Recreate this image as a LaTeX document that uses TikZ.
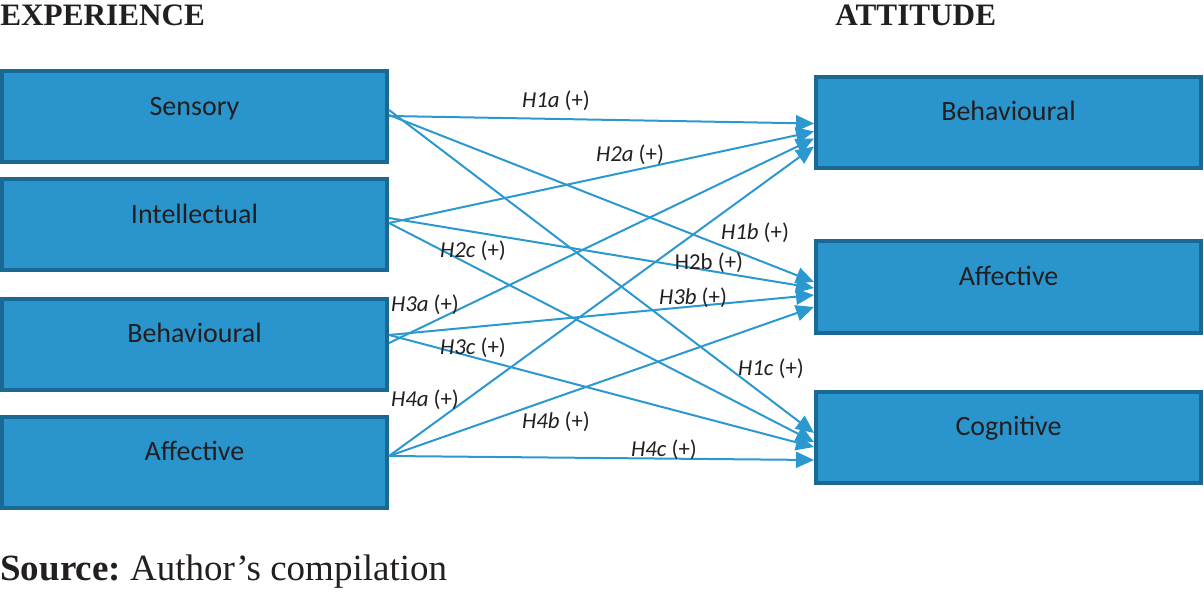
\documentclass[tikz,border=0pt]{standalone}
\usepackage{fontspec}
\setmainfont{Liberation Serif}
\newfontfamily\calibri{Carlito}
\usetikzlibrary{arrows.meta}
\definecolor{boxblue}{RGB}{42,149,204}
\definecolor{boxedge}{RGB}{26,104,148}
\definecolor{arrowblue}{RGB}{44,152,208}
\definecolor{txtgray}{RGB}{35,31,32}

\begin{document}
\begin{tikzpicture}[x=0.5pt,y=-0.5pt,
  box/.style={draw=boxedge,fill=boxblue,line width=2pt,minimum width=192.5pt,
    minimum height=45.5pt,inner sep=0pt,text=txtgray,
    font=\calibri\fontsize{14}{16}\selectfont,text height=10pt,text depth=11.5pt},
  hyp/.style={-{Triangle[length=9pt,width=8pt]},draw=arrowblue,line width=1pt},
  hlabel/.style={font=\calibri\fontsize{11.4}{13}\selectfont,text=txtgray,inner sep=0pt},
  heading/.style={font=\bfseries\fontsize{15.6}{18}\selectfont,text=txtgray,inner sep=0pt,anchor=west}]
\useasboundingbox (0,0) rectangle (1204,593);
% headings
\node[heading] (exp) at (0,15) {EXPERIENCE};
\node[heading] (att) at (835,15) {ATTITUDE};
% experience boxes
\node[box] (sens) at (194.5,117) {Sensory};
\node[box] (intel) at (194.5,225) {Intellectual};
\node[box] (lbeh) at (194.5,344) {Behavioural};
\node[box] (laff) at (194.5,462) {Affective};
% attitude boxes
\node[box] (rbeh) at (1008.5,122.5) {Behavioural};
\node[box] (raff) at (1008.5,287) {Affective};
\node[box] (cogn) at (1008.5,437) {Cognitive};
% hypotheses
\draw[hyp] ([yshift=0.5pt]sens.east) -- ([yshift=-0.5pt]rbeh.west);
\draw[hyp] ([yshift=1pt]sens.east) -- ([yshift=2.5pt]raff.west);
\draw[hyp] ([yshift=3.5pt]sens.east) -- ([yshift=2pt]cogn.west);
\draw[hyp] ([yshift=1pt]intel.east) -- ([yshift=-4.5pt]rbeh.west);
\draw[hyp] ([yshift=3.5pt]intel.east) -- ([yshift=-0.5pt]raff.west);
\draw[hyp] ([yshift=1pt]intel.east) -- ([yshift=-2.5pt]cogn.west);
\draw[hyp] ([yshift=0.5pt]lbeh.east) -- ([yshift=-8pt]rbeh.west);
\draw[hyp] ([yshift=4.5pt]lbeh.east) -- ([yshift=-4pt]raff.west);
\draw[hyp] ([yshift=4.5pt]lbeh.east) -- ([yshift=-5pt]cogn.west);
\draw[hyp] ([yshift=3pt]laff.east) -- ([yshift=-12pt]rbeh.west);
\draw[hyp] ([yshift=3pt]laff.east) -- ([yshift=-10pt]raff.west);
\draw[hyp] ([yshift=3pt]laff.east) -- ([yshift=-11.5pt]cogn.west);
% labels
\node[hlabel] (h1a) at (556,101) {\itshape H1a \upshape(+)};
\node[hlabel] (h2a) at (630,155) {\itshape H2a \upshape(+)};
\node[hlabel] (h1b) at (755,233) {\itshape H1b \upshape(+)};
\node[hlabel] (h2c) at (473,251) {\itshape H2c \upshape(+)};
\node[hlabel] (h2b) at (709,263) {H2b (+)};
\node[hlabel] (h3a) at (425,305) {\itshape H3a \upshape(+)};
\node[hlabel] (h3b) at (693,298) {\itshape H3b \upshape(+)};
\node[hlabel] (h3c) at (473,348) {\itshape H3c \upshape(+)};
\node[hlabel] (h1c) at (771,369) {\itshape H1c \upshape(+)};
\node[hlabel] (h4a) at (425,400) {\itshape H4a \upshape(+)};
\node[hlabel] (h4b) at (556,422) {\itshape H4b \upshape(+)};
\node[hlabel] (h4c) at (664,450) {\itshape H4c \upshape(+)};
% source line
\node[anchor=base west,inner sep=0pt,text=txtgray,font=\fontsize{18.5}{22}\selectfont] (src) at (0,580)
  {\textbf{Source:}\ Author’s compilation};
\end{tikzpicture}
\end{document}
